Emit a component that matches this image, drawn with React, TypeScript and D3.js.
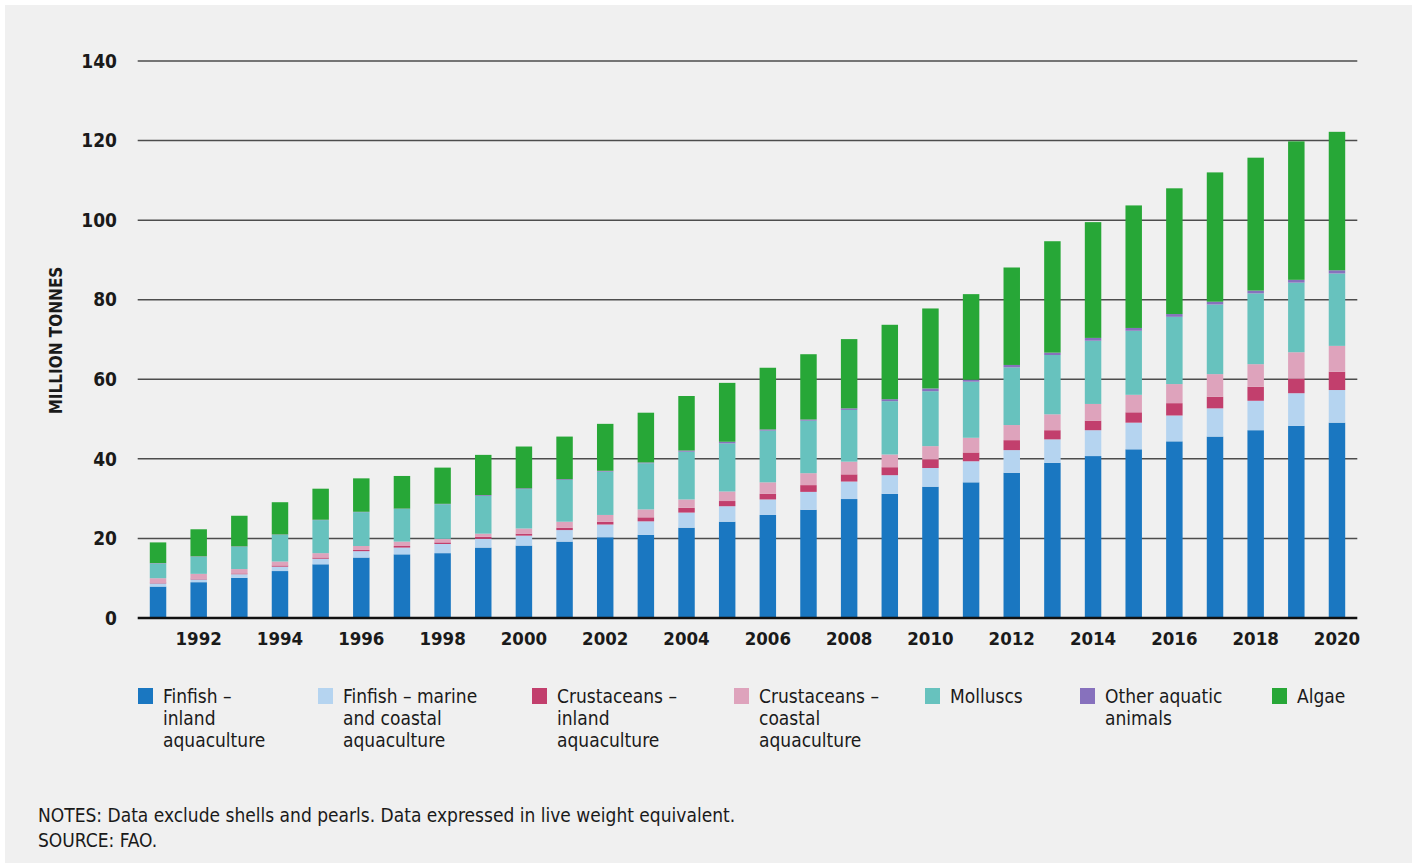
import React from 'react';
import * as d3 from 'd3';

// years on the x axis
const years = d3.range(1991, 2021).map(String);
const yearTicks = d3.range(1992, 2021, 2).map(String);
const yTicks = [0, 20, 40, 60, 80, 100, 120, 140];

// million tonnes per group
const finfishInland = [7.9, 9.0, 10.1, 11.8, 13.5, 15.2, 16.0, 16.3, 17.7, 18.2, 19.2, 20.3, 20.9, 22.7, 24.2, 25.9, 27.2, 29.9, 31.2, 33.0, 34.1, 36.5, 39.0, 40.7, 42.4, 44.4, 45.6, 47.2, 48.3, 49.1];
const finfishMarine = [0.8, 0.7, 0.9, 1.1, 1.4, 1.6, 1.7, 2.3, 2.2, 2.5, 2.9, 3.2, 3.4, 3.8, 3.9, 3.9, 4.5, 4.4, 4.7, 4.7, 5.3, 5.7, 5.9, 6.5, 6.7, 6.5, 7.1, 7.4, 8.2, 8.2];
const crustInland = [0.2, 0.2, 0.2, 0.3, 0.3, 0.3, 0.4, 0.4, 0.5, 0.5, 0.6, 0.7, 1.0, 1.2, 1.3, 1.4, 1.7, 1.8, 2.0, 2.2, 2.2, 2.5, 2.3, 2.4, 2.6, 3.1, 2.9, 3.5, 3.7, 4.6];
const crustCoastal = [1.1, 1.2, 1.1, 1.0, 1.1, 1.0, 1.1, 0.9, 0.8, 1.3, 1.5, 1.7, 2.0, 2.1, 2.4, 2.9, 3.0, 3.2, 3.2, 3.3, 3.7, 3.8, 4.0, 4.2, 4.4, 4.8, 5.7, 5.7, 6.6, 6.5];
const molluscs = [3.7, 4.3, 5.6, 6.7, 8.3, 8.5, 8.2, 8.7, 9.5, 9.9, 10.5, 10.9, 11.6, 12.0, 12.1, 13.0, 13.2, 13.0, 13.4, 13.8, 14.1, 14.5, 14.9, 15.9, 16.1, 16.9, 17.5, 17.8, 17.5, 18.2];
const otherAnimals = [0.1, 0.1, 0.1, 0.1, 0.1, 0.1, 0.1, 0.1, 0.2, 0.2, 0.2, 0.2, 0.2, 0.3, 0.4, 0.3, 0.3, 0.4, 0.5, 0.7, 0.5, 0.6, 0.6, 0.7, 0.7, 0.7, 0.7, 0.7, 0.7, 0.8];
const algae = [5.2, 6.8, 7.7, 8.1, 7.8, 8.4, 8.2, 9.1, 10.1, 10.5, 10.7, 11.8, 12.5, 13.7, 14.8, 15.5, 16.4, 17.4, 18.7, 20.1, 21.5, 24.5, 28.0, 29.1, 30.8, 31.6, 32.5, 33.4, 34.8, 34.8];

const seriesKeys = ['finfishInland', 'finfishMarine', 'crustInland', 'crustCoastal', 'molluscs', 'otherAnimals', 'algae'];
const seriesValues = [finfishInland, finfishMarine, crustInland, crustCoastal, molluscs, otherAnimals, algae];
const seriesColors = ['#1a77c1', '#b5d4f0', '#c23f6d', '#dea3bc', '#67c2be', '#8771bd', '#27a737'];
const legendLabels = [
  ['Finfish –', 'inland', 'aquaculture'],
  ['Finfish – marine', 'and coastal', 'aquaculture'],
  ['Crustaceans –', 'inland', 'aquaculture'],
  ['Crustaceans –', 'coastal', 'aquaculture'],
  ['Molluscs'],
  ['Other aquatic', 'animals'],
  ['Algae'],
];
const legendX = [138, 318, 532, 734, 925, 1080, 1272];

const font = "'Liberation Sans Narrow', 'DejaVu Sans Condensed', 'Roboto Condensed', 'Liberation Sans', sans-serif";

const width = 1417;
const height = 868;

export default function App() {
  const rows = years.map((yr, i) => {
    const r: any = { year: yr };
    seriesKeys.forEach((k, j) => (r[k] = seriesValues[j][i]));
    return r;
  });
  const stacked = d3.stack().keys(seriesKeys)(rows);

  const x = d3.scaleBand().domain(years).range([137.7, 1357.3]).paddingInner(0.595).paddingOuter(0.2975);
  const y = d3.scaleLinear().domain([0, 140]).range([618, 61]);

  return (
    <>
      <style>{`body{margin:0}`}</style>
      <svg width={width} height={height} style={{ display: 'block', fontFamily: font }}>
        <rect x={0} y={0} width={width} height={height} fill="#ffffff" />
        <rect x={5} y={5} width={1407} height={858} fill="#f0f0f0" />

        {yTicks.filter(t => t > 0).map(t => (
          <line key={t} x1={x.range()[0]} x2={x.range()[1]} y1={y(t)} y2={y(t)} stroke="#4d4d4d" strokeWidth={1.5} />
        ))}
        {yTicks.map(t => (
          <text key={t} x={117} y={y(t)} dy="0.35em" textAnchor="end" fontSize={19} fontWeight="bold" fill="#1a1a1a">{t}</text>
        ))}
        <text transform={`translate(56,${(y(40) + y(100)) / 2 + 1}) rotate(-90)`} textAnchor="middle" dy="0.35em" fontSize={17} fontWeight="bold" fill="#1a1a1a">MILLION TONNES</text>

        {stacked.map((s, j) => (
          <g key={s.key} fill={seriesColors[j]}>
            {s.map((d, i) => (
              <rect key={i} x={x(years[i])} width={x.bandwidth()} y={y(d[1])} height={Math.max(0, y(d[0]) - y(d[1]))} />
            ))}
          </g>
        ))}

        <line x1={x.range()[0]} x2={x.range()[1]} y1={y(0)} y2={y(0)} stroke="#111" strokeWidth={2.5} />
        {yearTicks.map(t => (
          <text key={t} x={(x(t) as number) + x.bandwidth() / 2} y={645} textAnchor="middle" fontSize={18.5} fontWeight="bold" fill="#1a1a1a">{t}</text>
        ))}

        {legendLabels.map((lines, j) => (
          <g key={j} transform={`translate(${legendX[j]},688)`}>
            <rect x={0} y={0} width={15} height={16} fill={seriesColors[j]} />
            <text x={25} y={15} fontSize={19} fill="#1a1a1a">
              {lines.map((l, k) => (
                <tspan key={k} x={25} dy={k === 0 ? 0 : 22}>{l}</tspan>
              ))}
            </text>
          </g>
        ))}

        <text x={38} y={822} fontSize={19} fill="#1a1a1a">NOTES: Data exclude shells and pearls. Data expressed in live weight equivalent.</text>
        <text x={38} y={847} fontSize={19} fill="#1a1a1a">SOURCE: FAO.</text>
      </svg>
    </>
  );
}
